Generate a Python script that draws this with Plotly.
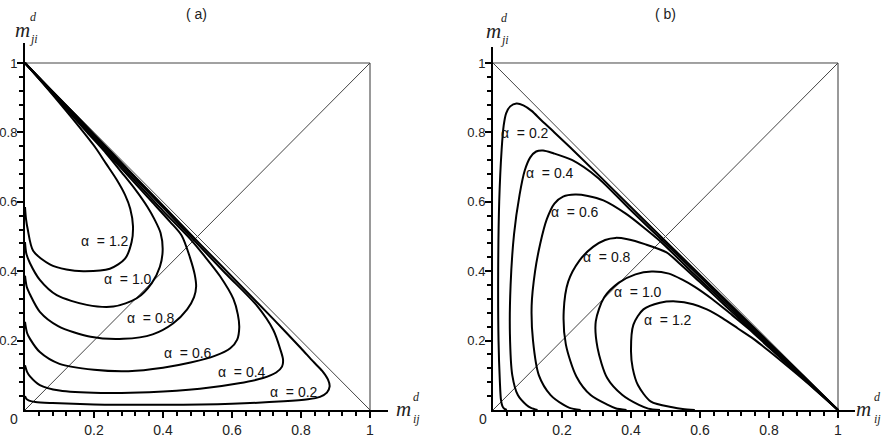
import plotly.graph_objects as go

# ---------------- data (panel a: x = m_ij^d, y = m_ji^d) ----------------
alphas = ["0.2", "0.4", "0.6", "0.8", "1.0", "1.2"]

a02_x = [0, 0.004, 0.012, 0.03, 0.08, 0.2, 0.4, 0.6, 0.75, 0.82, 0.855, 0.875, 0.883, 0.878, 0.862, 0.835, 0.80, 0.72, 0.62, 0.51, 0.411, 0.302, 0.20, 0.10, 0]
a02_y = [0.040, 0.032, 0.027, 0.023, 0.020, 0.016, 0.015, 0.018, 0.025, 0.031, 0.038, 0.050, 0.068, 0.088, 0.112, 0.14, 0.178, 0.262, 0.364, 0.476, 0.578, 0.69, 0.795, 0.898, 1.0]

a04_x = [0, 0.006, 0.0145, 0.043, 0.10, 0.22, 0.36, 0.507, 0.62, 0.69, 0.728, 0.745, 0.748, 0.74, 0.72, 0.671, 0.58, 0.48, 0.41, 0.30, 0.20, 0.10, 0]
a04_y = [0.129, 0.11, 0.097, 0.072, 0.056, 0.049, 0.051, 0.061, 0.077, 0.092, 0.108, 0.125, 0.145, 0.175, 0.23, 0.302, 0.395, 0.50, 0.573, 0.6875, 0.792, 0.896, 1.0]

a06_x = [0, 0.006, 0.0145, 0.043, 0.10, 0.20, 0.30, 0.40, 0.48, 0.55, 0.595, 0.615, 0.621, 0.617, 0.604, 0.565, 0.52, 0.478, 0.40, 0.30, 0.20, 0.10, 0]
a06_y = [0.254, 0.222, 0.205, 0.167, 0.133, 0.116, 0.112, 0.122, 0.137, 0.156, 0.178, 0.203, 0.238, 0.275, 0.32, 0.386, 0.444, 0.494, 0.574, 0.681, 0.787, 0.894, 1.0]

a08_x = [0, 0.005, 0.0145, 0.043, 0.096, 0.19, 0.285, 0.37, 0.43, 0.47, 0.49, 0.496, 0.492, 0.478, 0.454, 0.42, 0.37, 0.30, 0.20, 0.10, 0]
a08_y = [0.387, 0.355, 0.333, 0.283, 0.242, 0.211, 0.205, 0.218, 0.25, 0.29, 0.325, 0.355, 0.39, 0.44, 0.503, 0.543, 0.598, 0.674, 0.783, 0.891, 1.0]

a10_x = [0, 0.004, 0.0145, 0.043, 0.092, 0.179, 0.256, 0.324, 0.367, 0.391, 0.399, 0.393, 0.375, 0.355, 0.32, 0.28, 0.235, 0.18, 0.09, 0]
a10_y = [0.484, 0.45, 0.423, 0.375, 0.331, 0.303, 0.298, 0.322, 0.365, 0.413, 0.46, 0.51, 0.55, 0.585, 0.635, 0.685, 0.74, 0.80, 0.90, 1.0]

a12_x = [0, 0.003, 0.008, 0.024, 0.072, 0.12, 0.169, 0.246, 0.29, 0.309, 0.313, 0.305, 0.29, 0.265, 0.235, 0.205, 0.17, 0.115, 0.06, 0]
a12_y = [0.585, 0.55, 0.52, 0.458, 0.42, 0.405, 0.40, 0.407, 0.436, 0.484, 0.53, 0.58, 0.62, 0.665, 0.71, 0.755, 0.80, 0.867, 0.932, 1.0]

# panel (b) is the mirror image of panel (a) (x and y swapped)
b02_x, b02_y = a02_y, a02_x
b04_x, b04_y = a04_y, a04_x
b06_x, b06_y = a06_y, a06_x
b08_x, b08_y = a08_y, a08_x
b10_x, b10_y = a10_y, a10_x
b12_x, b12_y = a12_y, a12_x

# label positions (data units)
a_label_x = [0.780, 0.629, 0.472, 0.365, 0.299, 0.232]
a_label_y = [0.052, 0.110, 0.164, 0.265, 0.378, 0.487]
b_label_x = [0.093, 0.165, 0.238, 0.330, 0.420, 0.507]
b_label_y = [0.798, 0.683, 0.571, 0.441, 0.340, 0.259]

# frame lines
top_x, top_y = [0, 1], [1, 1]
right_x, right_y = [1, 1], [0, 1]
diag_x, diag_y = [0, 1], [0, 1]
anti_x, anti_y = [0, 1], [1, 0]

major_ticks = [0.2, 0.4, 0.6, 0.8, 1.0]
major_text = ["0.2", "0.4", "0.6", "0.8", "1"]
minor_ticks = [0.04, 0.08, 0.12, 0.16, 0.24, 0.28, 0.32, 0.36, 0.44, 0.48, 0.52, 0.56,
               0.64, 0.68, 0.72, 0.76, 0.84, 0.88, 0.92, 0.96]

# ---------------- figure ----------------
W, H = 885, 444
SX, SY = 345.0, 347.0          # px per data unit
Y0 = 410.0                     # px of y=0
AX0, BX0 = 25.0, 493.0         # px of x=0 in panels a and b
XR_A, YR_A = 1.052, 1.058
XR_B, YR_B = 1.049, 1.046

fig = go.Figure()

curves_a = [(a02_x, a02_y), (a04_x, a04_y), (a06_x, a06_y), (a08_x, a08_y), (a10_x, a10_y), (a12_x, a12_y)]
curves_b = [(b02_x, b02_y), (b04_x, b04_y), (b06_x, b06_y), (b08_x, b08_y), (b10_x, b10_y), (b12_x, b12_y)]

for xa, ya in [("x", "y"), ("x2", "y2")]:
    fig.add_trace(go.Scatter(x=top_x, y=top_y, mode="lines", line=dict(color="#444", width=1),
                             xaxis=xa, yaxis=ya, showlegend=False, hoverinfo="skip"))
    fig.add_trace(go.Scatter(x=right_x, y=right_y, mode="lines", line=dict(color="#999", width=2),
                             xaxis=xa, yaxis=ya, showlegend=False, hoverinfo="skip"))
    fig.add_trace(go.Scatter(x=diag_x, y=diag_y, mode="lines", line=dict(color="#444", width=1),
                             xaxis=xa, yaxis=ya, showlegend=False, hoverinfo="skip"))
    fig.add_trace(go.Scatter(x=anti_x, y=anti_y, mode="lines", line=dict(color="#444", width=1),
                             xaxis=xa, yaxis=ya, showlegend=False, hoverinfo="skip"))

for cx, cy in curves_a:
    fig.add_trace(go.Scatter(x=cx, y=cy, mode="lines", line=dict(color="black", width=2, shape="spline", smoothing=0.8),
                             xaxis="x", yaxis="y", showlegend=False))
for cx, cy in curves_b:
    fig.add_trace(go.Scatter(x=cx, y=cy, mode="lines", line=dict(color="black", width=2, shape="spline", smoothing=0.8),
                             xaxis="x2", yaxis="y2", showlegend=False))

xtickfont = dict(family="Liberation Sans, Arial, sans-serif", size=14, color="#222")
ytickfont = dict(family="Liberation Sans, Arial, sans-serif", size=13, color="#222")
common = dict(showgrid=False, zeroline=False, showline=True, linecolor="black", linewidth=2,
              ticks="outside", ticklen=6, tickwidth=1.5, tickcolor="black", automargin=False,
              tickmode="array", tickvals=major_ticks, ticktext=major_text,
              minor=dict(tickmode="array", tickvals=minor_ticks, ticks="outside", ticklen=4,
                         tickwidth=1.5, tickcolor="black", showgrid=False))

ybot = (H - Y0) / H
fig.update_layout(
    width=W, height=H, margin=dict(l=0, r=0, t=0, b=0, autoexpand=False),
    paper_bgcolor="white", plot_bgcolor="white",
    xaxis=dict(domain=[AX0 / W, (AX0 + XR_A * SX) / W], range=[0, XR_A], anchor="y",
               tickfont=xtickfont, **common),
    yaxis=dict(domain=[ybot, (H - Y0 + YR_A * SY) / H], range=[0, YR_A], anchor="x",
               tickfont=ytickfont, ticklabelstandoff=-3, **common),
    xaxis2=dict(domain=[BX0 / W, (BX0 + XR_B * SX) / W], range=[0, XR_B], anchor="y2",
                tickfont=xtickfont, **common),
    yaxis2=dict(domain=[ybot, (H - Y0 + YR_B * SY) / H], range=[0, YR_B], anchor="x2",
                tickfont=ytickfont, ticklabelstandoff=-3, **common),
)

annos = []
lab_font = dict(family="Liberation Sans, Arial, sans-serif", size=14, color="#111")
for i, a in enumerate(alphas):
    annos.append(dict(x=a_label_x[i], y=a_label_y[i], xref="x", yref="y", text="α&nbsp; = " + a,
                      showarrow=False, font=lab_font))
    annos.append(dict(x=b_label_x[i], y=b_label_y[i], xref="x2", yref="y2", text="α&nbsp; = " + a,
                      showarrow=False, font=lab_font))


def pa(px, py, text, size, family="Liberation Sans, Arial, sans-serif", italic=False):
    t = "<i>" + text + "</i>" if italic else text
    return dict(x=px / W, y=1 - py / H, xref="paper", yref="paper", text=t, showarrow=False,
                xanchor="center", yanchor="middle", font=dict(family=family, size=size, color="#222"))


serif = "Liberation Serif, Times New Roman, serif"
annos += [
    pa(196, 14, "( a)", 14), pa(665, 14, "( b)", 14),
    pa(14, 419, "0", 14), pa(483, 419, "0", 14),
    # panel a axis titles
    pa(22.5, 30, "m", 21, serif, True), pa(33, 17, "d", 12, serif, True), pa(33, 39, "ji", 12, serif, True),
    pa(403, 409, "m", 21, serif, True), pa(416, 397, "d", 12, serif, True), pa(416, 419, "ij", 12, serif, True),
    # panel b axis titles
    pa(493.5, 31, "m", 21, serif, True), pa(504, 18, "d", 12, serif, True), pa(504, 40, "ji", 12, serif, True),
    pa(863.5, 409, "m", 21, serif, True), pa(877, 397, "d", 12, serif, True), pa(877, 419, "ij", 12, serif, True),
]
fig.update_layout(annotations=annos)

fig.write_html("out.html")
